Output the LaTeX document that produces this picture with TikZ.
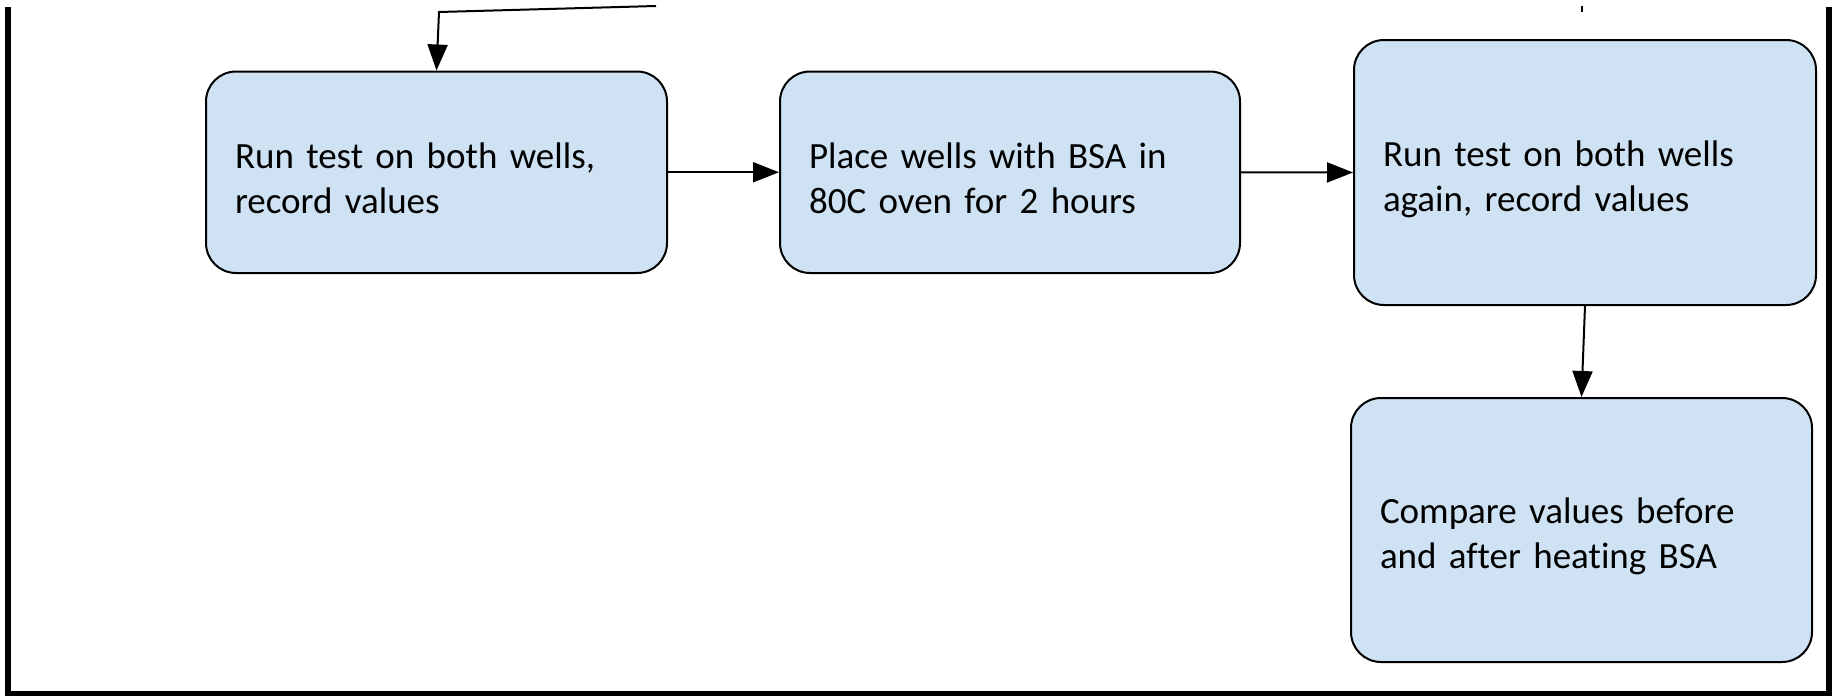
\documentclass[tikz,border=0pt]{standalone}
\usepackage{fontspec}
\setmainfont{Carlito}[Ligatures=NoCommon]
\usetikzlibrary{arrows.meta}
\definecolor{boxblue}{HTML}{CFE2F3}
\newcommand{\mystrutA}{\rule[-1.5pt]{0pt}{40pt}}
\begin{document}
\begin{tikzpicture}[x=1pt,y=-1pt,
  stepbox/.style={draw=black, line width=2pt, fill=boxblue, rounded corners=30pt,
    align=left, inner xsep=29pt, inner ysep=0pt, font=\fontsize{37}{45}\selectfont},
  conn/.style={line width=2pt, -{Triangle[length=26pt,width=20pt]}},
  frameline/.style={line width=6pt},
  tickline/.style={line width=1.5pt}]
\useasboundingbox (0,0) rectangle (1837,696);

\node[stepbox, text width=403pt, minimum height=201.5pt] (b1) at (436.5,172.25)
  {\mystrutA Run test on both wells,\\\mystrutA record values};
\node[stepbox, text width=402pt, minimum height=201.5pt] (b2) at (1010,172.25)
  {\mystrutA Place wells with BSA in\\\mystrutA 80C oven for 2 hours};
\node[stepbox, text width=404pt, minimum height=265pt] (b3) at (1585,172.5)
  {\mystrutA Run test on both wells\\\mystrutA again, record values};
\node[stepbox, text width=403pt, minimum height=264pt] (b4) at (1581.5,530)
  {\mystrutA Compare values before\\\mystrutA and after heating BSA};

\draw[conn] (b1.east) -- (b2.west);
\draw[conn] (b2.east) -- (b3.west);
\draw[conn] (b3.south) -- (b4.north);

\coordinate (topstart) at (656,6);
\coordinate (topbend) at (439,12);
\draw[conn] (topstart) -- (topbend) -- (b1.north);

\coordinate (tickA) at (1582,6);
\coordinate (tickB) at (1582,12);
\draw[tickline] (tickA) -- (tickB);

\coordinate (f1) at (8,7);
\coordinate (f2) at (8,693.5);
\coordinate (f3) at (1828.5,693.5);
\coordinate (f4) at (1828.5,7);
\draw[frameline] (f1) -- (f2) -- (f3) -- (f4);
\end{tikzpicture}
\end{document}
